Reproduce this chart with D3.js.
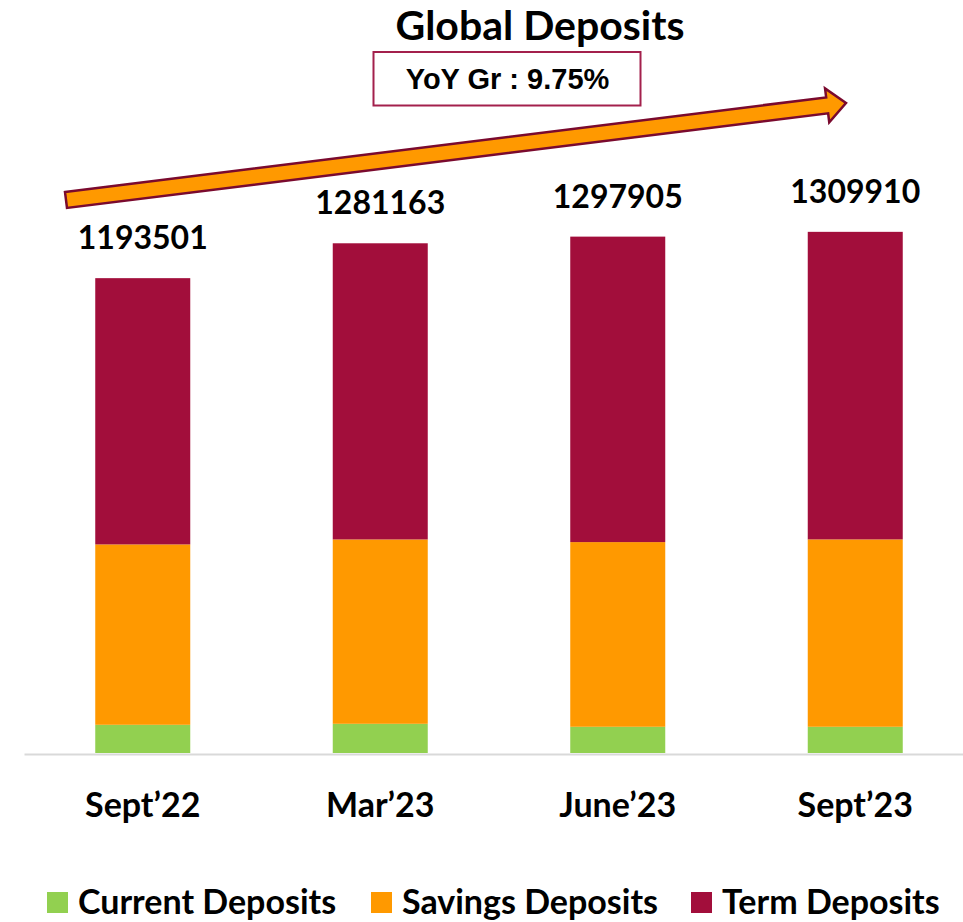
<!DOCTYPE html>
<html>
<head>
<meta charset="utf-8">
<script src="https://cdn.jsdelivr.net/npm/d3@7"></script>
<style>
  body { margin: 0; background: #fff; }
  svg { display: block; }
  text { font-family: Lato, 'Open Sans', sans-serif; font-weight: bold; fill: #000; }
</style>
</head>
<body>
<div class="chart"></div>
<script>
// values (Rs crore)
const periods = ['Sept\u201922', 'Mar\u201923', 'June\u201923', 'Sept\u201923'];
const currentDeposits = [70900, 73400, 65900, 65900];
const savingsDeposits = [453400, 463400, 464200, 471000];
const termDeposits = [669201, 744363, 767805, 773010];
const totals = [1193501, 1281163, 1297905, 1309910];
const seriesNames = ['Current Deposits', 'Savings Deposits', 'Term Deposits'];
const seriesColors = ['#92d050', '#ff9900', '#a20e3b'];
const yoyText = 'YoY Gr : 9.75%';

const width = 963;
const height = 922;

const svg = d3.select('.chart')
  .append('svg')
  .attr('width', width)
  .attr('height', height);

// build rows for the stack
const rows = periods.map((p, i) => ({
  period: p,
  current: currentDeposits[i],
  savings: savingsDeposits[i],
  term: termDeposits[i]
}));
const keys = ['current', 'savings', 'term'];
const stacked = d3.stack().keys(keys)(rows);

const x = d3.scaleBand()
  .domain(periods)
  .range([24, 974])
  .paddingInner(0.6)
  .paddingOuter(0.3);

const y = d3.scaleLinear()
  .domain([0, 1400000])
  .range([753, 196]);

const color = d3.scaleOrdinal().domain(keys).range(seriesColors);

// title
svg.append('text')
  .attr('x', 540)
  .attr('y', 40)
  .attr('text-anchor', 'middle')
  .style('font-size', '41px')
  .text('Global Deposits');

// growth arrow
const ax0 = 66, ay0 = 200, ax1 = 846, ay1 = 103;
const len = Math.hypot(ax1 - ax0, ay1 - ay0);
const ang = Math.atan2(ay1 - ay0, ax1 - ax0) * 180 / Math.PI;
const headLen = 19;
const arrowPts = [
  [0, -8], [len - headLen, -8], [len - headLen, -17], [len, 0],
  [len - headLen, 17], [len - headLen, 8], [0, 8]
];
svg.append('path')
  .attr('d', d3.line()(arrowPts) + 'Z')
  .attr('transform', `translate(${ax0},${ay0}) rotate(${ang})`)
  .attr('fill', '#ff9900')
  .attr('stroke', '#7a0a2e')
  .attr('stroke-width', 2.5)
  .attr('stroke-linejoin', 'miter');

// YoY box
svg.append('rect')
  .attr('x', 373.5)
  .attr('y', 52)
  .attr('width', 267)
  .attr('height', 53.5)
  .attr('fill', '#fff')
  .attr('stroke', '#a3204c')
  .attr('stroke-width', 2);

svg.append('text')
  .attr('x', 507.5)
  .attr('y', 89)
  .attr('text-anchor', 'middle')
  .style('font-family', "'Liberation Sans', Arial, sans-serif")
  .style('font-size', '29px')
  .text(yoyText);

// bars
const g = svg.append('g');
g.selectAll('g.series')
  .data(stacked)
  .enter()
  .append('g')
  .attr('class', 'series')
  .attr('fill', (d) => color(d.key))
  .selectAll('rect')
  .data((d) => d)
  .enter()
  .append('rect')
  .attr('x', (d) => x(d.data.period))
  .attr('y', (d) => y(d[1]))
  .attr('width', x.bandwidth())
  .attr('height', (d) => y(d[0]) - y(d[1]));

// x axis: a plain gray base line, labels underneath
const xAxis = d3.axisBottom(x).tickSize(0).tickPadding(39);
const axisG = svg.append('g')
  .attr('transform', 'translate(0,754)')
  .call(xAxis);
axisG.select('.domain').attr('stroke', '#d9d9d9').attr('stroke-width', 2);
axisG.selectAll('text')
  .style('font-family', 'Lato, sans-serif')
  .style('font-size', '34px')
  .style('font-weight', 'bold')
  .attr('fill', '#000');

// total labels
svg.selectAll('text.total')
  .data(periods)
  .enter()
  .append('text')
  .attr('class', 'total')
  .attr('x', (d) => x(d) + x.bandwidth() / 2)
  .attr('y', (d, i) => y(totals[i]) - 29)
  .attr('text-anchor', 'middle')
  .style('font-size', '32px')
  .text((d, i) => totals[i]);

// legend
const legendX = [47, 371, 691];
const legend = svg.selectAll('g.legend')
  .data(seriesNames)
  .enter()
  .append('g')
  .attr('class', 'legend')
  .attr('transform', (d, i) => `translate(${legendX[i]},892)`);

legend.append('rect')
  .attr('width', 21)
  .attr('height', 21)
  .attr('fill', (d, i) => seriesColors[i]);

legend.append('text')
  .attr('x', 31)
  .attr('y', 22)
  .style('font-size', '34px')
  .text((d) => d);
</script>
</body>
</html>
